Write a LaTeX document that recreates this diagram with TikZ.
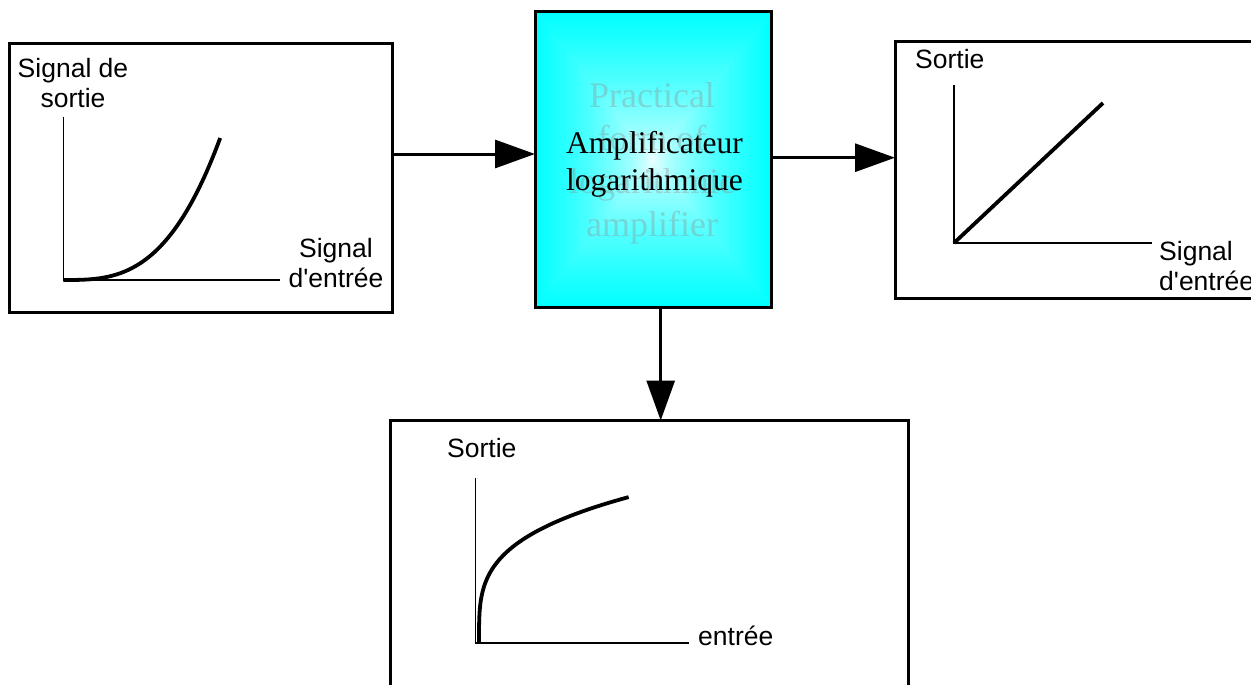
\documentclass[tikz,border=0pt]{standalone}
\usepackage{fontspec}
\setmainfont{Liberation Sans}[Ligatures=TeXOff]
\newfontfamily\timesfont{Liberation Serif}
\usetikzlibrary{arrows.meta}
\definecolor{aqua}{RGB}{0,255,255}

\begin{document}
\begin{tikzpicture}[x=1pt,y=-1pt,
  frame/.style={draw=black, line width=3pt, inner sep=0pt, outer sep=0pt},
  flow/.style={line width=3pt, -{Triangle[length=40pt,width=28pt]}},
  axis/.style={line width=1.4pt},
  curve/.style={line width=3.8pt, line cap=butt},
  lbl/.style={font=\fontsize{26.5}{30.5}\selectfont, inner sep=0pt},
  ampfont/.style={font=\timesfont\fontsize{31.5}{37}\selectfont, inner sep=0pt},
  ghost/.style={font=\timesfont\fontsize{36}{43}\selectfont, inner sep=0pt,
                text=black!45, text opacity=0.35},
]
\clip (0,0) rectangle (1251,685);
\fill[white] (0,0) rectangle (1251,685);

% rectangular aqua-to-white gradient of the amplifier block
\foreach \i in {0,...,47} {
  \pgfmathsetmacro\s{1-\i/48}
  \pgfmathtruncatemacro\p{100*(\s^0.6)}
  \fill[aqua!\p!white] (653-118*\s, 159.5-147.5*\s) rectangle (653+118*\s, 159.5+147.5*\s);
}

% blocks
\node[frame, minimum width=382.5pt, minimum height=268pt] (inbox) at (200.75,178) {};
\node[ghost, align=center, anchor=north] (ampghost) at (652,82.5)
  {Practical\\form of\\logarithmic\\amplifier};
\node[frame, minimum width=236pt, minimum height=295pt] (amp) at (653,159.5) {};
\node[ampfont, align=center, anchor=north] (amptext) at (654.5,131.3)
  {Amplificateur\\logarithmique};
\node[frame, minimum width=367pt, minimum height=256.5pt] (outbox) at (1078.5,169.75) {};
\node[frame, minimum width=518pt, minimum height=284.5pt] (logbox) at (649.5,562.75) {};

% connectors
\draw[flow] ([yshift=5.5pt]inbox.east |- amp.west) -- ([yshift=5.5pt]amp.west);
\draw[flow] ([yshift=1.8pt]amp.east) -- ([yshift=1.8pt]amp.east -| outbox.west);
\draw[flow] ([xshift=7.7pt]amp.south) -- ([xshift=7.7pt]amp.south |- logbox.north);

% input characteristic (exponential-like)
\draw[axis] (63.3,116.7) -- (63.3,280) -- (280,280);
\draw[curve] plot[domain=0:1, samples=60, variable=\t] ({63.3+157*\t}, {280-142.3*\t*\t*\t});
\node[lbl, align=center, anchor=north] (inY) at (73,58) {Signal de\\sortie};
\node[lbl, align=center, anchor=north] (inX) at (336,238) {Signal\\d'entrée};

% linear characteristic
\draw[axis] (954,85) -- (954,243) -- (1152,243);
\draw[curve] (954,243) -- (1103,103);
\node[lbl, anchor=base west] (outY) at (915,69) {Sortie};
\node[lbl, align=left, anchor=north west] (outX) at (1159,241) {Signal\\d'entrée};

% logarithmic characteristic
\draw[axis] (475.7,478) -- (475.7,643) -- (689,643);
\draw[curve] plot[domain=0.0001:1, samples=80, variable=\t] ({479+150*\t^3.57}, {643-146*\t});
\node[lbl, anchor=base west] (logY) at (447,457) {Sortie};
\node[lbl, anchor=base west] (logX) at (698,645) {entrée};
\end{tikzpicture}
\end{document}
